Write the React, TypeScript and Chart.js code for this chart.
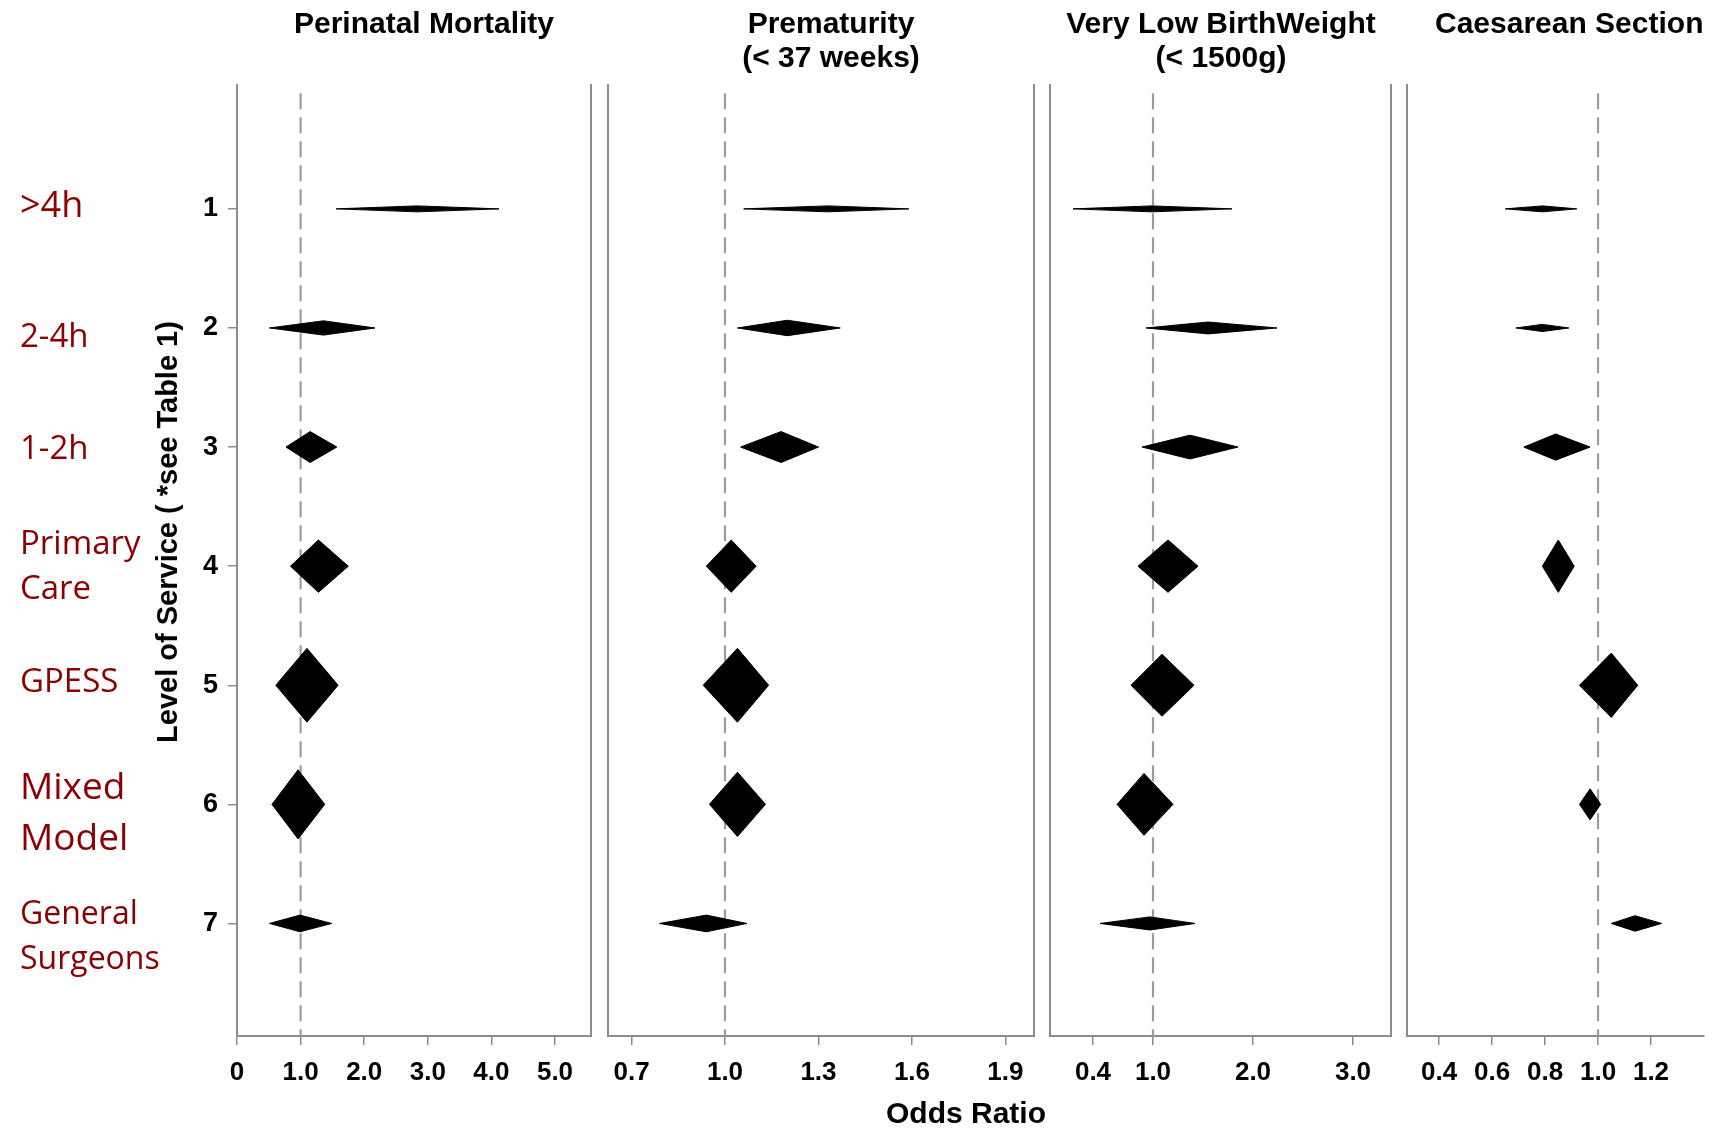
import React, { useEffect, useRef } from 'react';
import { Chart, registerables } from 'chart.js';

Chart.register(...registerables);

// ---------------- DATA ----------------
const levels = [1, 2, 3, 4, 5, 6, 7];
const levelNames: string[][] = [
  ['>4h'],
  ['2-4h'],
  ['1-2h'],
  ['Primary', 'Care'],
  ['GPESS'],
  ['Mixed', 'Model'],
  ['General', 'Surgeons'],
];
const referenceOR = 1.0;

// Perinatal mortality: lower CI, odds ratio, upper CI, diamond half-height (rows)
const mortalityLow = [1.56, 0.51, 0.77, 0.84, 0.61, 0.55, 0.51];
const mortalityOR = [2.83, 1.36, 1.15, 1.28, 1.1, 0.96, 0.99];
const mortalityHigh = [4.12, 2.17, 1.57, 1.75, 1.59, 1.38, 1.49];
const mortalityWeight = [0.025, 0.06, 0.13, 0.22, 0.31, 0.29, 0.07];
const mortalityTicks = [0, 1, 2, 3, 4, 5];

// Prematurity (< 37 weeks)
const prematurityLow = [1.06, 1.04, 1.05, 0.94, 0.93, 0.95, 0.79];
const prematurityOR = [1.33, 1.2, 1.18, 1.02, 1.04, 1.04, 0.94];
const prematurityHigh = [1.59, 1.37, 1.3, 1.1, 1.14, 1.13, 1.07];
const prematurityWeight = [0.025, 0.065, 0.13, 0.22, 0.31, 0.27, 0.07];
const prematurityTicks = [0.7, 1.0, 1.3, 1.6, 1.9];

// Very low birth weight (< 1500g)
const vlbwLow = [0.2, 0.93, 0.89, 0.85, 0.78, 0.64, 0.47];
const vlbwOR = [0.99, 1.55, 1.37, 1.15, 1.09, 0.91, 0.97];
const vlbwHigh = [1.79, 2.24, 1.85, 1.45, 1.41, 1.2, 1.42];
const vlbwWeight = [0.025, 0.05, 0.1, 0.22, 0.26, 0.26, 0.055];
const vlbwTicks = [0.4, 1.0, 2.0, 3.0];

// Caesarean section
const caesareanLow = [0.65, 0.69, 0.72, 0.79, 0.93, 0.93, 1.05];
const caesareanOR = [0.79, 0.79, 0.84, 0.85, 1.05, 0.97, 1.14];
const caesareanHigh = [0.92, 0.89, 0.97, 0.91, 1.15, 1.01, 1.24];
const caesareanWeight = [0.025, 0.03, 0.11, 0.22, 0.27, 0.13, 0.065];
const caesareanTicks = [0.4, 0.6, 0.8, 1.0, 1.2];

// ---------------- LAYOUT / STYLE ----------------
const W = 1714;
const H = 1132;
const PLOT_TOP = 85;
const PLOT_BOTTOM = 1036;
const X_AXIS_BOX = 70;
const Y_AXIS_BOX = 70;
const Y_MIN = -0.04;
const Y_MAX = 7.945;
const SANS = '"Liberation Sans", Arial, Helvetica, sans-serif';
const LABEL_FONT = '"Open Sans", "Noto Sans", sans-serif';
const AXIS_GRAY = '#8c8c8c';
const DASH_GRAY = '#9c9c9c';
const LABEL_RED = '#8b0000';
const TITLE_Y = [25, 59];

const levelLabelStyle = [
  { size: 36, dy: -2, gap: 0 },
  { size: 33, dy: 10, gap: 0 },
  { size: 33, dy: 3, gap: 0 },
  { size: 33, dy: 1, gap: 45 },
  { size: 33, dy: -3, gap: 0 },
  { size: 37, dy: 10, gap: 51 },
  { size: 32, dy: 14, gap: 45 },
];

type Panel = {
  title: string[];
  titleX: number;
  titleAlign: CanvasTextAlign;
  low: number[];
  or: number[];
  high: number[];
  weight: number[];
  ticks: number[];
  min: number;
  max: number;
  left: number;
  right: number;
  yLabels: boolean;
  rightBorder: boolean;
  levelText: boolean;
  oddsRatio: boolean;
};

const panels: Panel[] = [
  {
    title: ['Perinatal Mortality'], titleX: 424, titleAlign: 'center',
    low: mortalityLow, or: mortalityOR, high: mortalityHigh, weight: mortalityWeight,
    ticks: mortalityTicks, min: 0, max: 5.566, left: 237, right: 591,
    yLabels: true, rightBorder: true, levelText: true, oddsRatio: false,
  },
  {
    title: ['Prematurity', '(< 37 weeks)'], titleX: 831, titleAlign: 'center',
    low: prematurityLow, or: prematurityOR, high: prematurityHigh, weight: prematurityWeight,
    ticks: prematurityTicks, min: 0.6245, max: 1.9917, left: 608, right: 1034,
    yLabels: false, rightBorder: true, levelText: false, oddsRatio: true,
  },
  {
    title: ['Very Low BirthWeight', '(< 1500g)'], titleX: 1221, titleAlign: 'center',
    low: vlbwLow, or: vlbwOR, high: vlbwHigh, weight: vlbwWeight,
    ticks: vlbwTicks, min: -0.03, max: 3.38, left: 1050, right: 1391,
    yLabels: false, rightBorder: true, levelText: false, oddsRatio: false,
  },
  {
    title: ['Caesarean Section'], titleX: 1435, titleAlign: 'left',
    low: caesareanLow, or: caesareanOR, high: caesareanHigh, weight: caesareanWeight,
    ticks: caesareanTicks, min: 0.279, max: 1.4, left: 1407, right: 1704,
    yLabels: false, rightBorder: false, levelText: false, oddsRatio: false,
  },
];

function makeTextPlugin(p: Panel) {
  return {
    id: 'panelText',
    afterDraw(chart: any) {
      const ctx: CanvasRenderingContext2D = chart.ctx;
      ctx.save();
      ctx.fillStyle = '#000';
      ctx.font = `bold 30px ${SANS}`;
      ctx.textAlign = p.titleAlign;
      ctx.textBaseline = 'middle';
      p.title.forEach((line, k) => ctx.fillText(line, p.titleX, TITLE_Y[k]));

      if (p.oddsRatio) {
        ctx.textAlign = 'center';
        ctx.font = `bold 30px ${SANS}`;
        ctx.fillText('Odds Ratio', 966, 1115);
      }

      if (p.levelText) {
        const ys = chart.scales.y;
        ctx.fillStyle = LABEL_RED;
        ctx.textAlign = 'left';
        ctx.textBaseline = 'middle';
        levels.forEach((lv, i) => {
          const st = levelLabelStyle[i];
          const lines = levelNames[i];
          const yc = ys.getPixelForValue(lv) + st.dy;
          ctx.font = `${st.size}px ${LABEL_FONT}`;
          lines.forEach((t, k) => {
            ctx.fillText(t, 20, yc + (k - (lines.length - 1) / 2) * st.gap);
          });
        });
        ctx.save();
        ctx.fillStyle = '#000';
        ctx.font = `bold 29px ${SANS}`;
        ctx.translate(169, 532);
        ctx.rotate(-Math.PI / 2);
        ctx.textAlign = 'center';
        ctx.textBaseline = 'middle';
        ctx.fillText('Level of Service ( *see Table 1)', 0, 0);
        ctx.restore();
      }
      ctx.restore();
    },
  };
}

function PanelChart({ p }: { p: Panel }) {
  const ref = useRef<HTMLCanvasElement>(null);
  useEffect(() => {
    const canvas = ref.current;
    if (!canvas) return;
    const datasets: any[] = levels.map((lv, i) => ({
      data: [
        { x: p.low[i], y: lv },
        { x: p.or[i], y: lv - p.weight[i] },
        { x: p.high[i], y: lv },
        { x: p.or[i], y: lv + p.weight[i] },
        { x: p.low[i], y: lv },
      ],
      borderColor: '#000',
      backgroundColor: '#000',
      borderWidth: 1,
      fill: 'shape',
      pointRadius: 0,
      tension: 0,
      order: 0,
    }));
    datasets.push({
      data: [
        { x: referenceOR, y: 0.03 },
        { x: referenceOR, y: Y_MAX },
      ],
      borderColor: DASH_GRAY,
      borderWidth: 2.2,
      borderDash: [16, 8],
      fill: false,
      pointRadius: 0,
      order: 10,
    });

    const yBox = p.yLabels ? Y_AXIS_BOX : 0;
    const scales: any = {
      x: {
        type: 'linear',
        position: 'bottom',
        min: p.min,
        max: p.max,
        afterFit: (s: any) => { s.height = X_AXIS_BOX; },
        afterBuildTicks: (s: any) => { s.ticks = p.ticks.map((v) => ({ value: v })); },
        ticks: {
          autoSkip: false,
          maxRotation: 0,
          padding: 12,
          color: '#000',
          font: { family: SANS, size: 26, weight: 'bold' },
          callback: (v: any) => (Number(v) === 0 ? '0' : Number(v).toFixed(1)),
        },
        grid: { drawOnChartArea: false, drawTicks: true, tickLength: 9, color: AXIS_GRAY, lineWidth: 1.5 },
        border: { display: true, color: AXIS_GRAY, width: 2 },
      },
      y: {
        type: 'linear',
        position: 'left',
        reverse: true,
        min: Y_MIN,
        max: Y_MAX,
        afterFit: (s: any) => { s.width = yBox; },
        afterBuildTicks: (s: any) => { s.ticks = levels.map((v) => ({ value: v })); },
        ticks: {
          display: p.yLabels,
          autoSkip: false,
          padding: 10,
          color: '#000',
          font: { family: SANS, size: 27, weight: 'bold' },
          callback: (v: any) => String(v),
        },
        grid: { display: p.yLabels, drawOnChartArea: false, drawTicks: true, tickLength: 9, color: AXIS_GRAY, lineWidth: 1.5 },
        border: { display: true, color: AXIS_GRAY, width: 2 },
      },
    };
    if (p.rightBorder) {
      scales.y2 = {
        type: 'linear',
        position: 'right',
        min: Y_MIN,
        max: Y_MAX,
        afterFit: (s: any) => { s.width = 0; },
        ticks: { display: false },
        grid: { display: false, drawTicks: false },
        border: { display: true, color: AXIS_GRAY, width: 2 },
      };
    }

    const chart = new Chart(canvas, {
      type: 'line',
      data: { datasets },
      options: {
        responsive: false,
        animation: false,
        events: [],
        layout: {
          padding: {
            left: p.left - yBox,
            right: W - p.right,
            top: PLOT_TOP,
            bottom: H - PLOT_BOTTOM - X_AXIS_BOX,
          },
        },
        plugins: {
          legend: { display: false },
          tooltip: { enabled: false },
          title: { display: false },
        },
        scales,
      } as any,
      plugins: [makeTextPlugin(p)],
    });
    return () => chart.destroy();
  }, [p]);
  return (
    <canvas
      ref={ref}
      width={W}
      height={H}
      style={{ position: 'absolute', left: 0, top: 0, width: W, height: H }}
    />
  );
}

export default function App() {
  return (
    <div style={{ position: 'absolute', left: 0, top: 0, width: W, height: H, background: '#fff', overflow: 'hidden' }}>
      {panels.map((p, i) => (
        <PanelChart key={i} p={p} />
      ))}
    </div>
  );
}
